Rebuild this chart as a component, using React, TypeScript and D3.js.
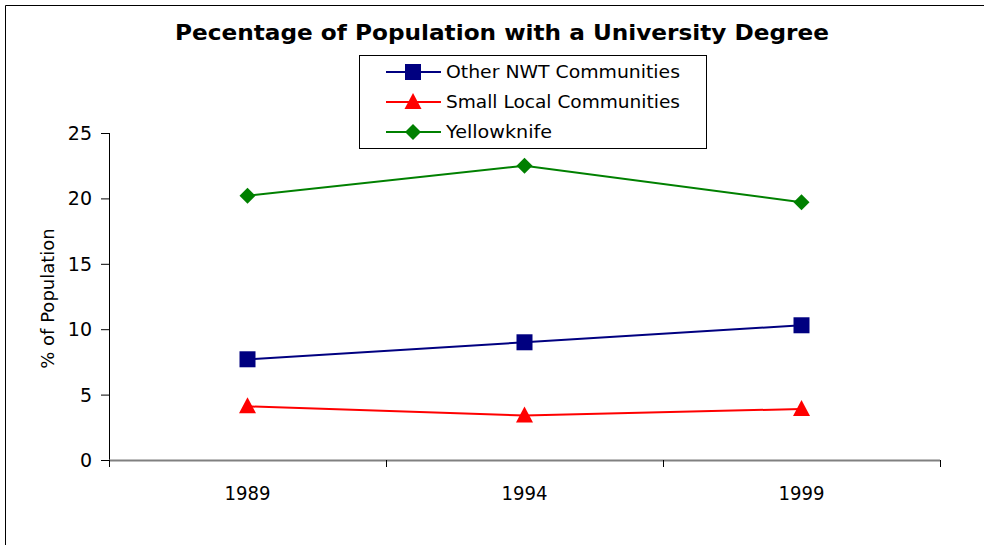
import React from "react";
import * as d3 from "d3";

const years = ["1989", "1994", "1999"];
const otherNWT = [7.7, 9.0, 10.3];
const smallLocal = [4.1, 3.4, 3.9];
const yellowknife = [20.2, 22.5, 19.7];
const yTicks = [0, 5, 10, 15, 20, 25];
const seriesNames = ["Other NWT Communities", "Small Local Communities", "Yellowknife"];

const W = 984;
const H = 545;
const FONT = "'DejaVu Sans', Verdana, sans-serif";

export default function App() {
  const x = d3.scaleBand<string>().domain(years).range([109, 940]);
  const y = d3.scaleLinear().domain([0, 25]).range([460, 133]);
  const cx = (yr: string) => (x(yr) as number) + x.bandwidth() / 2;
  const line = d3
    .line<number>()
    .x((_, i) => cx(years[i]))
    .y((d) => y(d));

  const series = [
    { name: seriesNames[0], values: otherNWT, color: "#000080", shape: "square" },
    { name: seriesNames[1], values: smallLocal, color: "#FF0000", shape: "triangle" },
    { name: seriesNames[2], values: yellowknife, color: "#008000", shape: "diamond" },
  ];

  const marker = (shape: string, px: number, py: number, color: string, key: string) => {
    if (shape === "square")
      return <rect key={key} x={px - 8} y={py - 8} width={16} height={16} fill={color} />;
    if (shape === "triangle")
      return (
        <path key={key} d={`M${px},${py - 9} L${px + 8.5},${py + 7} L${px - 8.5},${py + 7} Z`} fill={color} />
      );
    return <path key={key} d={`M${px},${py - 8} L${px + 8},${py} L${px},${py + 8} L${px - 8},${py} Z`} fill={color} />;
  };

  const boundaries = [...years.map((yr) => x(yr) as number), 940];
  const legendWidths = [234, 234, 106];

  return (
    <svg width={W} height={H} style={{ position: "absolute", left: 0, top: 0 }}>
      <rect x={0} y={0} width={W} height={H} fill="#fff" />
      <path d={`M5.5,${H + 5} L5.5,5.5 L${W + 5},5.5`} fill="none" stroke="#000" strokeWidth={1} />
      <text
        x={175}
        y={40}
        fontFamily={FONT}
        fontWeight="bold"
        fontSize={21.5}
        fill="#000"
        textLength={654}
        lengthAdjust="spacingAndGlyphs"
      >
        Pecentage of Population with a University Degree
      </text>

      {/* axes */}
      <line x1={109.5} y1={y(25)} x2={109.5} y2={y(0)} stroke="#000" strokeWidth={1} />
      {yTicks.map((t) => (
        <g key={t}>
          <line x1={101} x2={109.5} y1={y(t) + 0.5} y2={y(t) + 0.5} stroke="#000" strokeWidth={1} />
          <text x={92} y={y(t) + 7} textAnchor="end" fontFamily={FONT} fontSize={19} fill="#000">
            {t}
          </text>
        </g>
      ))}
      <line x1={109} x2={940} y1={460.5} y2={460.5} stroke="#808080" strokeWidth={2} />
      {boundaries.map((b, i) => (
        <line key={i} x1={b + 0.5} x2={b + 0.5} y1={460} y2={467} stroke="#000" strokeWidth={1} />
      ))}
      {years.map((yr) => (
        <text
          key={yr}
          x={cx(yr) - 23}
          y={500}
          fontFamily={FONT}
          fontSize={20}
          fill="#000"
          textLength={46}
          lengthAdjust="spacingAndGlyphs"
        >
          {yr}
        </text>
      ))}
      <text
        transform={`translate(54,${(y(0) + y(25)) / 2 + 2}) rotate(-90)`}
        textAnchor="middle"
        fontFamily={FONT}
        fontSize={18}
        fill="#000"
      >
        % of Population
      </text>

      {/* series */}
      {series.map((s) => (
        <g key={s.name}>
          <path d={line(s.values) as string} fill="none" stroke={s.color} strokeWidth={2} />
          {s.values.map((v, i) => marker(s.shape, cx(years[i]), y(v), s.color, s.name + i))}
        </g>
      ))}

      {/* legend */}
      <rect x={359.5} y={55.5} width={347} height={93} fill="#fff" stroke="#000" strokeWidth={1} />
      {series.map((s, i) => {
        const ly = 72 + i * 30;
        return (
          <g key={s.name}>
            <line x1={386} x2={441} y1={ly} y2={ly} stroke={s.color} strokeWidth={2} />
            {marker(s.shape, 413, ly, s.color, "lg" + i)}
            <text
              x={446}
              y={ly + 6}
              fontFamily={FONT}
              fontSize={18.5}
              fill="#000"
              textLength={legendWidths[i]}
              lengthAdjust="spacingAndGlyphs"
            >
              {s.name}
            </text>
          </g>
        );
      })}
    </svg>
  );
}
